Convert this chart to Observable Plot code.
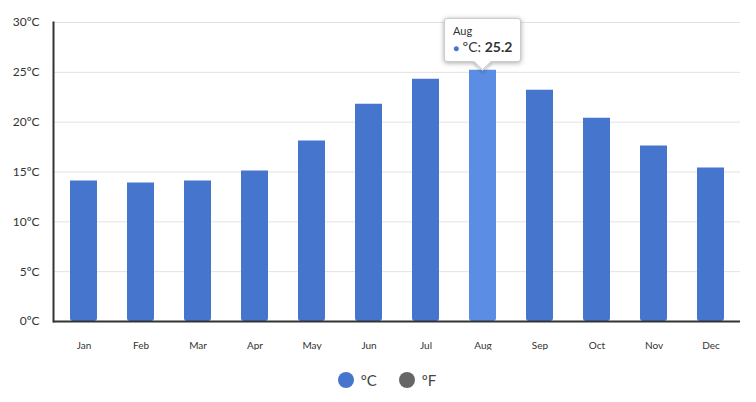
<!DOCTYPE html>
<html><head><meta charset="utf-8">
<script src="https://cdn.jsdelivr.net/npm/d3@7"></script>
<script src="https://cdn.jsdelivr.net/npm/@observablehq/plot@0.6"></script>
<style>
body{margin:0;background:#fff;font-family:Lato,"Open Sans",sans-serif;}
#wrap{position:relative;width:756px;}
#legend{display:flex;justify-content:center;align-items:center;gap:14px;margin-top:21px;font-size:15px;color:#444;padding-left:18px;}
.it{display:flex;align-items:center;gap:7px;margin:0 4px;}
.dot{width:16px;height:16px;border-radius:50%;display:inline-block;}
#tip{position:absolute;background:#fff;border:1px solid #ccc;border-radius:3px;box-shadow:0 1px 5px rgba(0,0,0,0.35);padding:5px 8px 6px 8px;color:#333;white-space:nowrap;}
#tip .t1{font-size:11px;}
#tip .t2{font-size:14px;margin-top:1px;}
#tip:after{content:"";position:absolute;left:50%;bottom:-7px;margin-left:-7px;width:12px;height:12px;background:#fff;transform:rotate(45deg);border-right:1px solid #ccc;border-bottom:1px solid #ccc;box-shadow:2px 2px 3px rgba(0,0,0,0.18);}
</style></head>
<body>
<div id="wrap"></div>
<div id="legend"></div>
<script>
const months = ["Jan","Feb","Mar","Apr","May","Jun","Jul","Aug","Sep","Oct","Nov","Dec"];
const tempC = [14.1,13.9,14.1,15.1,18.1,21.8,24.3,25.2,23.2,20.4,17.6,15.4];
const yTicks = [0,5,10,15,20,25,30];
const highlightMonth = "Aug";
const baseColor = "#4575cd";
const hiColor = "#5b8de5";
const legendItems = [{label:"ºC", color:"#4575cd"},{label:"ºF", color:"#666666"}];

const data = months.map((m,i)=>({month:m, temp:tempC[i]}));

const chart = Plot.plot({
  width: 756, height: 350,
  marginLeft: 53, marginRight: 16, marginTop: 22, marginBottom: 29,
  style: {fontFamily: "Lato, 'Open Sans', sans-serif", color:"#333", background:"#fff"},
  x: {domain: months, paddingInner: 0.53, paddingOuter: 0.265, label: null},
  y: {domain: [0,30], label: null},
  marks: [
    Plot.gridY(yTicks, {stroke:"#e3e3e3", strokeOpacity:1}),
    Plot.barY(data, {x:"month", y:"temp", fill: d => d.month===highlightMonth ? hiColor : baseColor, ry2: 3}),
    Plot.axisY(yTicks, {tickSize:0, tickPadding:14, fontSize:12, tickFormat: d => d + "ºC"}),
    Plot.axisX({tickSize:0, tickPadding:20, fontSize:10}),
    Plot.frame({anchor:"left", stroke:"#333", strokeWidth:2}),
    Plot.ruleY([0], {stroke:"#333", strokeWidth:2})
  ]
});
document.getElementById("wrap").appendChild(chart);

// tooltip overlay positioned by the chart's scales
const xs = chart.scale("x"), ys = chart.scale("y");
const hi = data.find(d=>d.month===highlightMonth);
const tip = document.createElement("div");
tip.id = "tip";
tip.innerHTML = `<div class="t1">${hi.month}</div><div class="t2"><span style="color:${baseColor};font-size:10px">●</span> ºC: <b>${hi.temp}</b></div>`;
document.getElementById("wrap").appendChild(tip);
const cx = xs.apply(hi.month) + xs.bandwidth/2;
const ty = ys.apply(hi.temp);
tip.style.left = (cx - tip.offsetWidth/2) + "px";
tip.style.top = (ty - 8 - tip.offsetHeight) + "px";

const lg = document.getElementById("legend");
legendItems.forEach(it=>{
  const d = document.createElement("span"); d.className="it";
  d.innerHTML = `<span class="dot" style="background:${it.color}"></span><span>${it.label}</span>`;
  lg.appendChild(d);
});
</script>
</body></html>
